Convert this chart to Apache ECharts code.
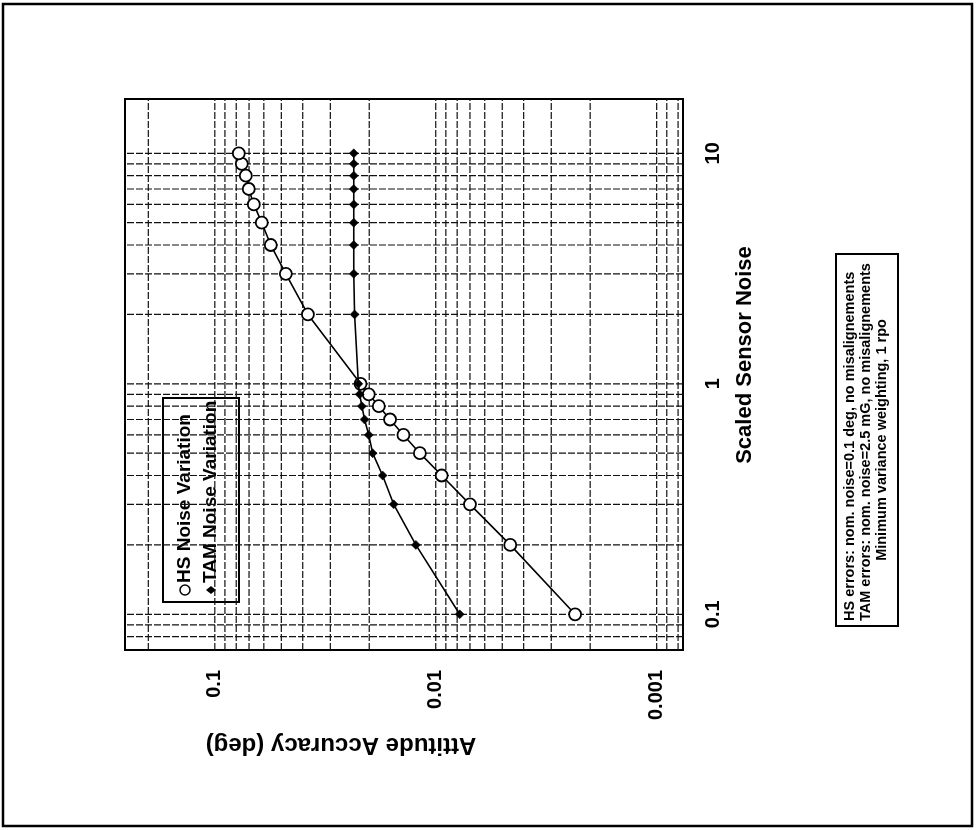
<!DOCTYPE html>
<html>
<head>
<meta charset="utf-8">
<script src="https://cdn.jsdelivr.net/npm/echarts@6/dist/echarts.min.js"></script>
<style>
html,body{margin:0;padding:0;background:#fff;}
#chart{width:978px;height:830px;}
</style>
</head>
<body>
<div id="chart"></div>
<script>
// ---- data ----
const noise = [0.1, 0.2, 0.3, 0.4, 0.5, 0.6, 0.7, 0.8, 0.9, 1, 2, 3, 4, 5, 6, 7, 8, 9, 10];
const hsAccuracy = [0.00234, 0.0046, 0.0070, 0.0094, 0.0118, 0.0140, 0.0161, 0.0181, 0.0201, 0.0219,
                    0.0379, 0.0477, 0.0558, 0.0613, 0.0666, 0.0702, 0.0724, 0.0755, 0.0779];
const tamAccuracy = [0.00779, 0.0123, 0.0155, 0.0174, 0.0193, 0.0201, 0.0210, 0.0216, 0.0221, 0.0224,
                     0.0233, 0.0235, 0.0235, 0.0235, 0.0235, 0.0235, 0.0235, 0.0235, 0.0235];

// axis ticks / labels
const accuracyTicks = [0.1, 0.01, 0.001];
const accuracyTickLabels = ['0.1', '0.01', '0.001'];
const noiseTicks = [0.1, 1, 10];
const noiseTickLabels = ['0.1', '1', '10'];

// grid line values
const accuracyGrid = [0.2, 0.1, 0.09, 0.08, 0.07, 0.06, 0.05, 0.04, 0.03, 0.02,
                      0.01, 0.009, 0.008, 0.007, 0.006, 0.005, 0.004, 0.003, 0.002,
                      0.001, 0.0009, 0.0008];
const noiseGrid = [0.08, 0.09, 0.1, 0.2, 0.3, 0.4, 0.5, 0.6, 0.7, 0.8, 0.9,
                   1, 2, 3, 4, 5, 6, 7, 8, 9, 10];

// axis extents
const accuracyMin = 0.00076, accuracyMax = 0.255;
const noiseMin = 0.07, noiseMax = 17.2;

// texts
const seriesNames = ['HS Noise Variation', 'TAM Noise Variation'];
const xTitle = 'Scaled Sensor Noise';
const yTitle = 'Attitude Accuracy (deg)';
const noteLines = [
  'HS errors: nom. noise=0.1 deg, no misalignements',
  'TAM errors: nom. noise=2.5 mG, no misalignements',
  'Minimum variance weighting, 1 rpo'
];

const FONT = '"Liberation Sans", Arial, Helvetica, sans-serif';

function pickLabel(ticks, labels) {
  return function (v) {
    for (let i = 0; i < ticks.length; i++) {
      if (Math.abs(v / ticks[i] - 1) < 1e-6) return labels[i];
    }
    return '';
  };
}

const chart = echarts.init(document.getElementById('chart'), null, {renderer: 'canvas'});

const gridStyle = {stroke: '#111', lineWidth: 1.2, lineDash: [7, 2]};

const option = {
  backgroundColor: '#fff',
  animation: false,
  grid: {
    left: 125, top: 99, width: 558, height: 551,
    show: true, borderColor: '#000', borderWidth: 2, backgroundColor: 'transparent'
  },
  xAxis: {
    type: 'log', logBase: 10, inverse: true,
    min: accuracyMin, max: accuracyMax,
    axisLine: {show: false}, axisTick: {show: false}, splitLine: {show: false},
    axisLabel: {
      rotate: 90, margin: 20, color: '#000', fontSize: 20, fontWeight: 'bold', fontFamily: FONT,
      formatter: pickLabel(accuracyTicks, accuracyTickLabels)
    }
  },
  yAxis: {
    type: 'log', logBase: 10, position: 'right',
    min: noiseMin, max: noiseMax,
    axisLine: {show: false}, axisTick: {show: false}, splitLine: {show: false},
    axisLabel: {
      rotate: 90, margin: 20, color: '#000', fontSize: 20, fontWeight: 'bold', fontFamily: FONT,
      formatter: pickLabel(noiseTicks, noiseTickLabels)
    }
  },
  series: [
    {
      // vertical grid lines (accuracy values)
      type: 'custom', z: 1, silent: true,
      data: accuracyGrid.map(v => [v, 1]),
      encode: {x: 0, y: 1},
      renderItem: function (params, api) {
        const v = api.value(0);
        const p1 = api.coord([v, noiseMin]);
        const p2 = api.coord([v, noiseMax]);
        return {type: 'line', shape: {x1: p1[0], y1: p1[1], x2: p2[0], y2: p2[1]}, style: gridStyle};
      }
    },
    {
      // horizontal grid lines (noise values)
      type: 'custom', z: 1, silent: true,
      data: noiseGrid.map(v => [0.01, v]),
      encode: {x: 0, y: 1},
      renderItem: function (params, api) {
        const v = api.value(1);
        const p1 = api.coord([accuracyMin, v]);
        const p2 = api.coord([accuracyMax, v]);
        return {type: 'line', shape: {x1: p1[0], y1: p1[1], x2: p2[0], y2: p2[1]}, style: gridStyle};
      }
    },
    {
      name: seriesNames[0], type: 'line', z: 3,
      data: noise.map((n, i) => [hsAccuracy[i], n]),
      symbol: 'circle', symbolSize: 12,
      itemStyle: {color: '#fff', borderColor: '#000', borderWidth: 1.8},
      lineStyle: {color: '#000', width: 1.6}
    },
    {
      name: seriesNames[1], type: 'line', z: 4,
      data: noise.map((n, i) => [tamAccuracy[i], n]),
      symbol: 'diamond', symbolSize: 9,
      itemStyle: {color: '#000', borderColor: '#000', borderWidth: 0.5},
      lineStyle: {color: '#000', width: 1.6}
    }
  ],
  graphic: [
    // outer frame
    {type: 'rect', shape: {x: 3, y: 4, width: 969, height: 822},
     style: {fill: null, stroke: '#000', lineWidth: 2.5}, z: 10},
    // x title (rotated)
    {type: 'text', x: 745, y: 355, rotation: Math.PI / 2,
     style: {text: xTitle, align: 'center', verticalAlign: 'middle',
             font: 'bold 22px ' + FONT, fill: '#000'}, z: 10},
    // y title (upside down)
    {type: 'text', x: 341, y: 745, rotation: Math.PI,
     style: {text: yTitle, align: 'center', verticalAlign: 'middle',
             font: 'bold 24px ' + FONT, fill: '#000'}, z: 10},
    // legend
    {type: 'group', x: 201, y: 500, rotation: Math.PI / 2, z: 20, children: [
      {type: 'rect', shape: {x: -102, y: -38, width: 204, height: 76},
       style: {fill: '#fff', stroke: '#000', lineWidth: 2}},
      {type: 'circle', shape: {cx: -90, cy: -16, r: 5},
       style: {fill: '#fff', stroke: '#000', lineWidth: 1.5}},
      {type: 'text', x: -83, y: -16,
       style: {text: seriesNames[0], align: 'left', verticalAlign: 'middle',
               font: 'bold 19px ' + FONT, fill: '#000'}},
      {type: 'polygon', shape: {points: [[-90, 5], [-86, 10], [-90, 15], [-94, 10]]},
       style: {fill: '#000'}},
      {type: 'text', x: -83, y: 10,
       style: {text: seriesNames[1], align: 'left', verticalAlign: 'middle',
               font: 'bold 19px ' + FONT, fill: '#000'}}
    ]},
    // note box
    {type: 'group', x: 867, y: 440, rotation: Math.PI / 2, z: 20, children: [
      {type: 'rect', shape: {x: -186, y: -31, width: 372, height: 62},
       style: {fill: '#fff', stroke: '#000', lineWidth: 2}},
      {type: 'text', x: -181, y: -17,
       style: {text: noteLines[0], align: 'left', verticalAlign: 'middle',
               font: 'bold 14.5px ' + FONT, fill: '#000'}},
      {type: 'text', x: -181, y: -1,
       style: {text: noteLines[1], align: 'left', verticalAlign: 'middle',
               font: 'bold 14.5px ' + FONT, fill: '#000'}},
      {type: 'text', x: 0, y: 15,
       style: {text: noteLines[2], align: 'center', verticalAlign: 'middle',
               font: 'bold 14.5px ' + FONT, fill: '#000'}}
    ]}
  ]
};
chart.setOption(option);
</script>
</body>
</html>
